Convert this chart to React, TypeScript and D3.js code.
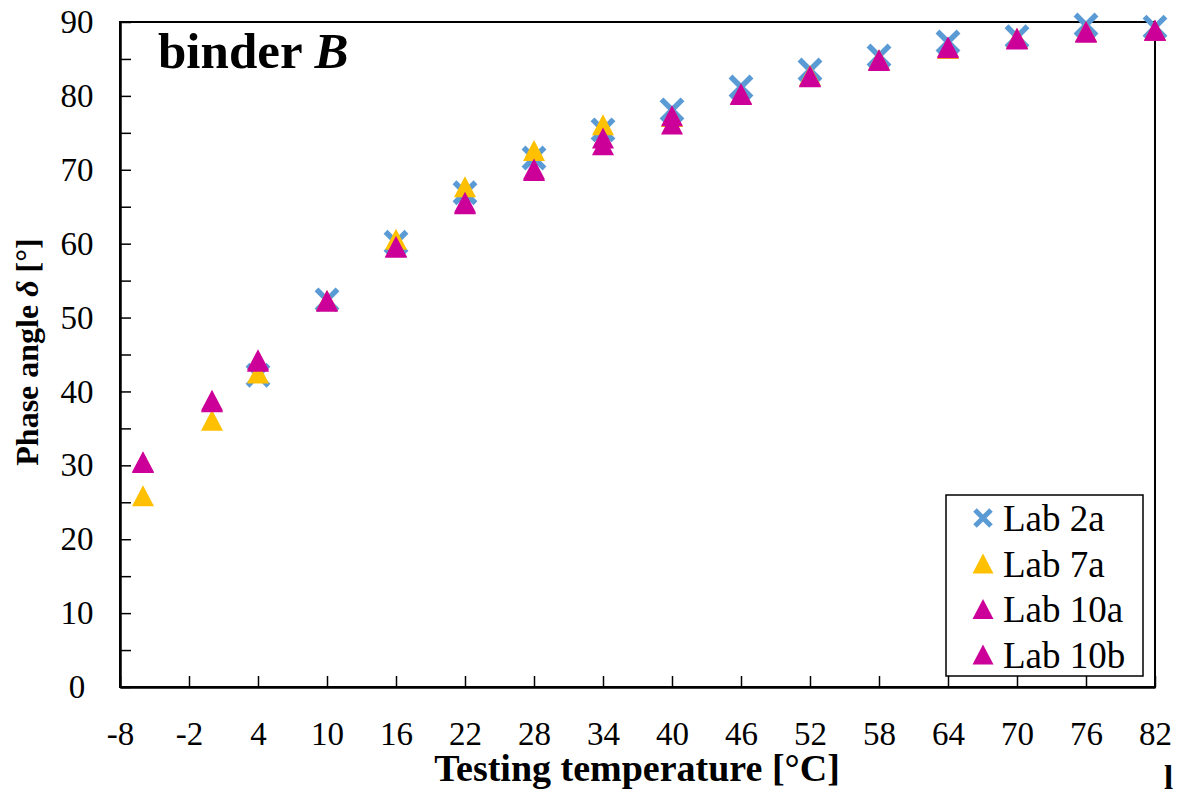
import React, { useEffect, useRef } from 'react'
import * as d3 from 'd3'

// testing temperatures [°C] and phase angles [°] per lab
const temps = [-6, 0, 4, 10, 16, 22, 28, 34, 40, 46, 52, 58, 64, 70, 76, 82]
const lab2a = [null, null, 42.2, 52.4, 60.2, 66.9, 71.6, 75.4, 78.1, 81.2, 83.5, 85.4, 87.3, 88.0, 89.6, 89.3]
const lab7a = [25.9, 36.1, 42.5, 52.3, 60.6, 67.7, 72.6, 76.1, 77.2, 80.2, 82.8, 84.9, 86.4, 87.8, 88.7, 88.9]
const lab10a = [30.5, 38.8, 44.3, 52.3, 59.6, 65.6, 70.1, 74.3, 77.3, 80.3, 82.7, 84.9, 86.6, 87.8, 88.7, 88.9]
const lab10b = [30.4, 38.6, 44.1, 52.2, 59.5, 65.4, 69.9, 73.4, 76.2, 80.2, 82.6, 84.8, 86.5, 87.7, 88.6, 88.9]

const xTicks = d3.range(-8, 83, 6)
const yTicks = d3.range(0, 91, 5)

const series = [
  { name: 'Lab 2a', values: lab2a, color: '#5B9BD5', shape: 'x' },
  { name: 'Lab 7a', values: lab7a, color: '#FFC000', shape: 'tri' },
  { name: 'Lab 10a', values: lab10a, color: '#CC0099', shape: 'tri' },
  { name: 'Lab 10b', values: lab10b, color: '#CC0099', shape: 'tri' },
]

const serif = "'Liberation Serif', 'Times New Roman', Times, serif"

function triPath(s: number) {
  const h = s / 2
  return `M0,${-h}L${h * 1.05},${h}L${-h * 1.05},${h}Z`
}

function drawMarker(g: any, shape: string, color: string, cx: number, cy: number, s: number, sw = 5.5) {
  const m = g.append('g').attr('transform', `translate(${cx},${cy})`)
  if (shape === 'x') {
    const h = s / 2
    m.append('path')
      .attr('d', `M${-h},${-h}L${h},${h}M${-h},${h}L${h},${-h}`)
      .attr('stroke', color)
      .attr('stroke-width', sw)
      .attr('fill', 'none')
  } else {
    m.append('path').attr('d', triPath(s)).attr('fill', color)
  }
}

export default function App() {
  const ref = useRef<SVGSVGElement | null>(null)

  useEffect(() => {
    document.body.style.margin = '0'
    const svg = d3.select(ref.current)
    svg.selectAll('*').remove()

    const left = 120, right = 1155, top = 22, bottom = 687

    const x = d3.scaleLinear().domain([-8, 82]).range([left, right])
    const y = d3.scaleLinear().domain([0, 90]).range([bottom, top])

    // frame (top + right)
    svg.append('rect')
      .attr('x', left).attr('y', top)
      .attr('width', right - left).attr('height', bottom - top)
      .attr('fill', 'none').attr('stroke', '#000').attr('stroke-width', 2)

    const xAxis = d3.axisBottom(x)
      .tickValues(xTicks)
      .tickSizeInner(-11)
      .tickSizeOuter(0)
      .tickPadding(35)
      .tickFormat(d => String(d))

    const gx = svg.append('g')
      .attr('transform', `translate(0,${bottom})`)
      .call(xAxis)
      .attr('font-family', null)
      .attr('font-size', null)
    gx.select('.domain').attr('stroke-width', 2.5)
    gx.selectAll('.tick line').attr('stroke-width', 1.5)
    gx.selectAll('.tick text')
      .style('font-family', serif).style('font-size', '33px').attr('fill', '#000')

    const yAxis = d3.axisLeft(y)
      .tickValues(yTicks)
      .tickSizeInner(-11)
      .tickSizeOuter(0)
      .tickPadding(43)
      .tickFormat(d => (+d % 10 === 0 ? String(d) : ''))

    const gy = svg.append('g')
      .attr('transform', `translate(${left},0)`)
      .call(yAxis)
      .attr('font-family', null)
      .attr('font-size', null)
    gy.select('.domain').attr('stroke-width', 2.5)
    gy.selectAll('.tick line').attr('stroke-width', 1.5)
    gy.selectAll('.tick text')
      .attr('text-anchor', 'middle')
      .style('font-family', serif).style('font-size', '33px').attr('fill', '#000')

    // points
    const pts = svg.append('g')
    series.forEach(s => {
      s.values.forEach((v, i) => {
        if (v == null) return
        drawMarker(pts, s.shape, s.color, x(temps[i]), y(v), 21)
      })
    })

    // title
    const title = svg.append('text')
      .attr('x', 158).attr('y', 68)
      .style('font-family', serif).style('font-size', '51px').style('font-weight', 'bold')
    title.append('tspan').text('binder ')
    title.append('tspan').style('font-style', 'italic').text('B')

    // axis titles
    svg.append('text')
      .attr('x', 637).attr('y', 781)
      .attr('text-anchor', 'middle')
      .style('font-family', serif).style('font-size', '38px').style('font-weight', 'bold')
      .text('Testing temperature [°C]')

    const yl = svg.append('text')
      .attr('transform', `translate(38,352) rotate(-90)`)
      .attr('text-anchor', 'middle')
      .style('font-family', serif).style('font-size', '32px').style('font-weight', 'bold')
    yl.append('tspan').text('Phase angle ')
    yl.append('tspan').style('font-style', 'italic').text('δ')
    yl.append('tspan').text(' [°]')

    // legend
    const lg = svg.append('g')
    lg.append('rect')
      .attr('x', 946).attr('y', 495).attr('width', 197).attr('height', 181)
      .attr('fill', '#fff').attr('stroke', '#000').attr('stroke-width', 1.5)
    series.forEach((s, i) => {
      const cy = 518 + i * 45.5
      drawMarker(lg, s.shape, s.color, 983, cy, s.shape === 'x' ? 16 : 20, 5)
      lg.append('text')
        .attr('x', 1003).attr('y', cy + 13)
        .style('font-family', serif).style('font-size', '37px').attr('fill', '#000')
        .text(s.name)
    })

    // cropped letter from the neighbouring panel
    svg.append('text')
      .attr('x', 1164).attr('y', 789)
      .style('font-family', serif).style('font-size', '33px').style('font-weight', 'bold')
      .text('l')
  }, [])

  return (
    <svg ref={ref} width={1181} height={794} style={{ display: 'block', background: '#fff' }} />
  )
}
